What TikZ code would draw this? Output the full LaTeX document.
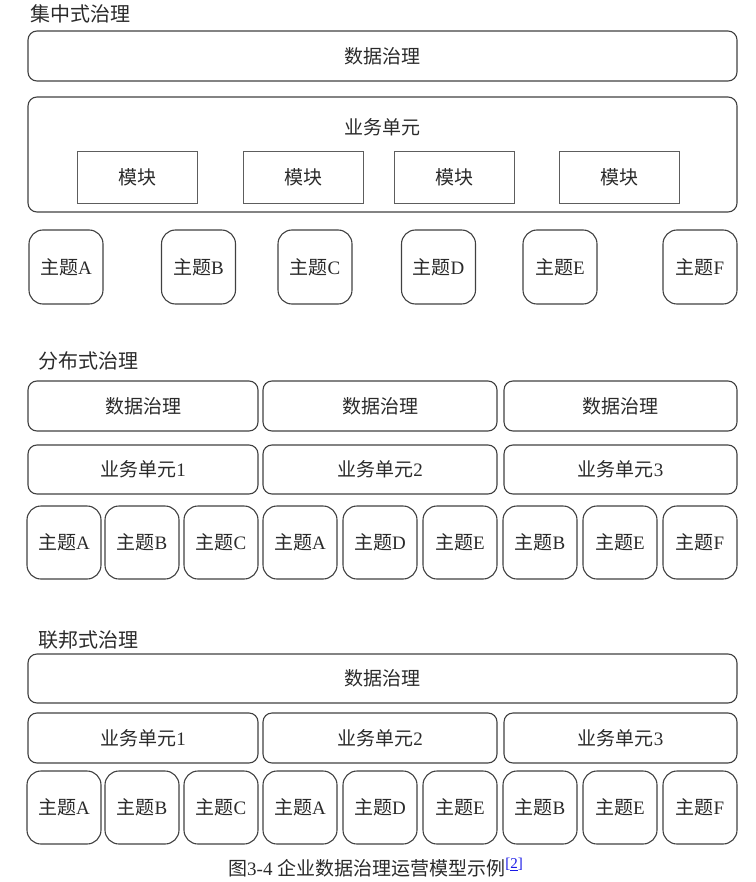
\documentclass[tikz,border=0pt]{standalone}
\usepackage{fontspec}
\setmainfont{Liberation Serif}
\newfontfamily\cjk{Noto Sans CJK SC}
\definecolor{ln}{HTML}{404040}
\definecolor{tx}{HTML}{2A2A2A}
\definecolor{lnk}{HTML}{1A1AE6}
\newcommand{\zt}[1]{{\cjk 主题}#1}
\begin{document}
\begin{tikzpicture}[x=1pt,y=-1pt,
  every node/.style={inner sep=0pt, text=tx, font=\fontsize{19}{22}\selectfont},
  rbox/.style={draw=ln, line width=1.1pt, rounded corners=9pt},
  topic/.style={draw=ln, line width=1.1pt, rounded corners=14pt, minimum width=74pt, minimum height=73pt},
  modbox/.style={draw=ln!85, line width=0.9pt, minimum width=120pt, minimum height=52pt},
  ttl/.style={anchor=west, font=\cjk\fontsize{20}{24}\selectfont}]
\useasboundingbox (0,0) rectangle (755,882);

% ---------- Section 1 ----------
\node[ttl] (t1) at (30,14) {集中式治理};
\node[rbox, minimum width=709pt, minimum height=50pt] (dg1) at (382.5,56) {\cjk 数据治理};
\node[rbox, minimum width=709pt, minimum height=115pt] (bu1) at (382.5,154.5) {};
\node[font=\cjk\fontsize{19}{22}\selectfont] (bu1l) at (382.5,127) {业务单元};
\foreach \x [count=\i] in {137,303.5,454,619.5}
  \node[modbox, font=\cjk\fontsize{19}{22}\selectfont] (m\i) at (\x,177) {模块};
\foreach \x/\l [count=\i] in {66/A,198.5/B,315/C,438.5/D,560/E,700/F}
  \node[topic, minimum height=74pt] (a\i) at (\x,267) {\zt{\l}};

% ---------- Section 2 ----------
\node[ttl] (t2) at (38,361) {分布式治理};
\foreach \x/\w [count=\i] in {143/230,380/234,620.5/233}{
  \node[rbox, minimum width=\w pt, minimum height=50pt] (dg2\i) at (\x,406) {\cjk 数据治理};
  \node[rbox, minimum width=\w pt, minimum height=49pt] (bu2\i) at (\x,469.5) {{\cjk 业务单元}\i};
}
\foreach \x/\l [count=\i] in {64/A,142/B,221/C,300/A,380/D,460/E,540/B,620/E,700/F}
  \node[topic] (b\i) at (\x,542.5) {\zt{\l}};

% ---------- Section 3 ----------
\node[ttl] (t3) at (38,640) {联邦式治理};
\node[rbox, minimum width=709pt, minimum height=49pt] (dg3) at (382.5,678.5) {\cjk 数据治理};
\foreach \x/\w [count=\i] in {143/230,380/234,620.5/233}
  \node[rbox, minimum width=\w pt, minimum height=50pt] (bu3\i) at (\x,738) {{\cjk 业务单元}\i};
\foreach \x/\l [count=\i] in {64/A,142/B,221/C,300/A,380/D,460/E,540/B,620/E,700/F}
  \node[topic] (c\i) at (\x,807.5) {\zt{\l}};

% ---------- Caption ----------
\node[anchor=west] (cap) at (228,868) {{\cjk 图}3-4 {\cjk 企业数据治理运营模型示例}\textcolor{lnk}{\raisebox{7pt}{\fontsize{15}{17}\selectfont[\underline{2}]}}};
\end{tikzpicture}
\end{document}
